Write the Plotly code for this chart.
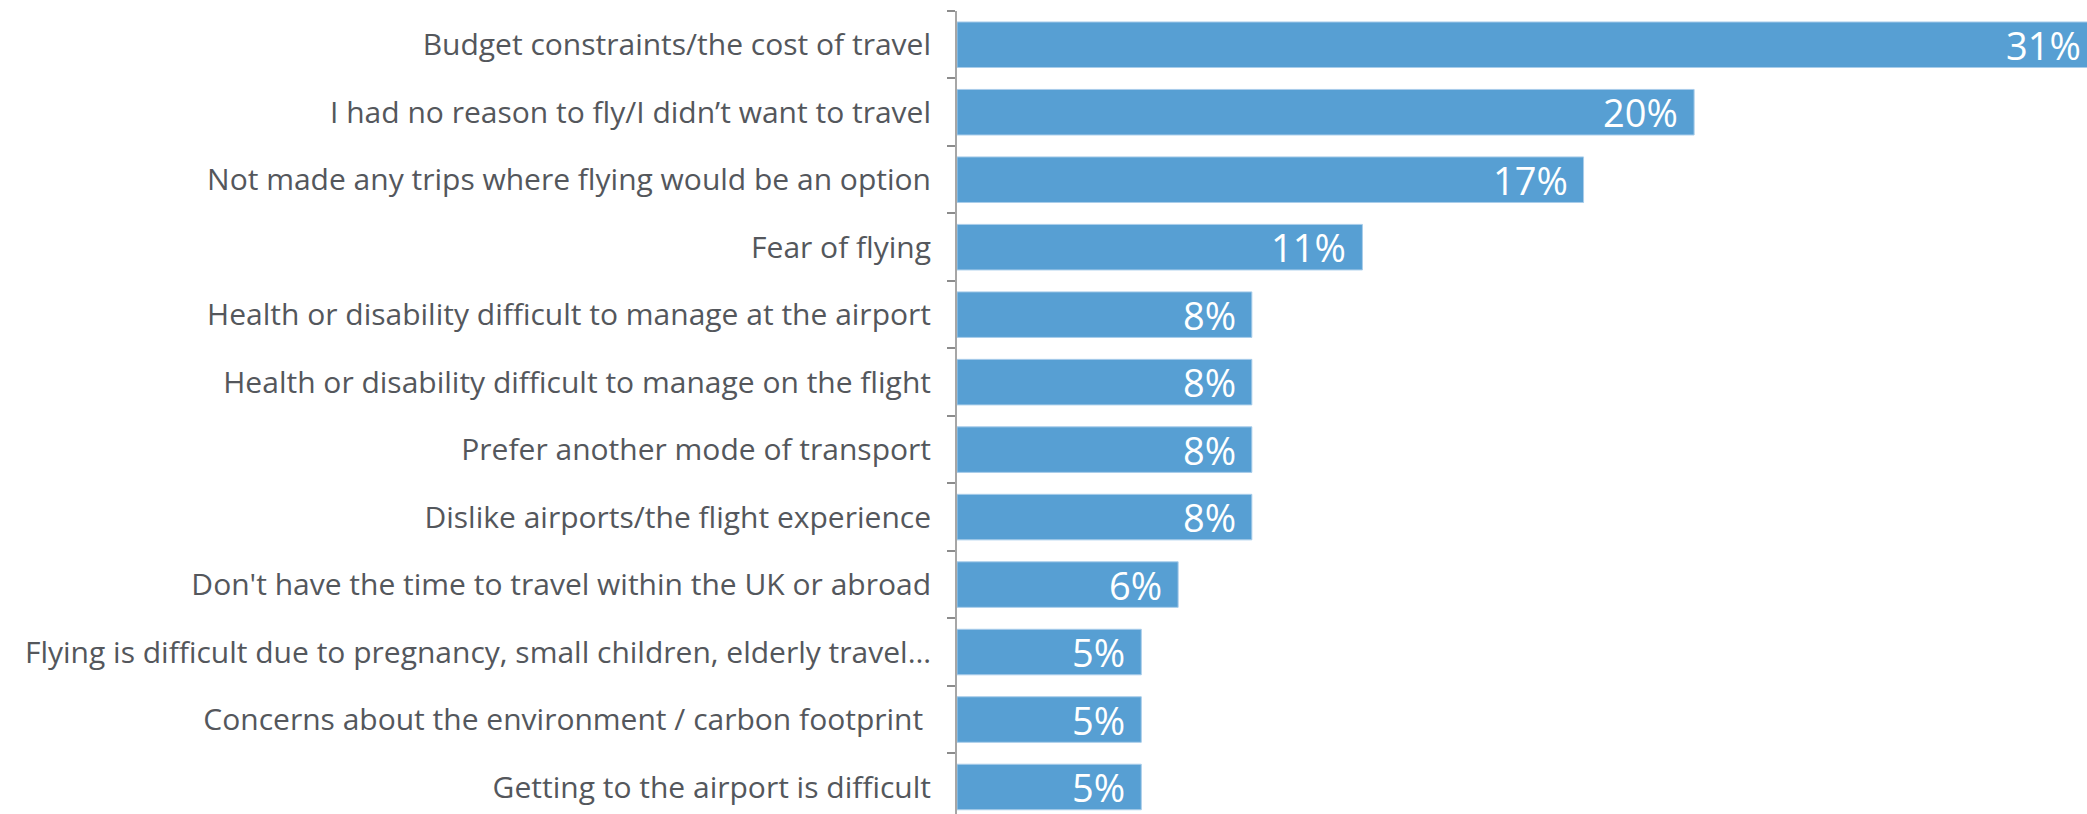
import plotly.graph_objects as go

categories = [
    "Budget constraints/the cost of travel",
    "I had no reason to fly/I didn\u2019t want to travel",
    "Not made any trips where flying would be an option",
    "Fear of flying",
    "Health or disability difficult to manage at the airport",
    "Health or disability difficult to manage on the flight",
    "Prefer another mode of transport",
    "Dislike airports/the flight experience",
    "Don't have the time to travel within the UK or abroad",
    "Flying is difficult due to pregnancy, small children, elderly travel\u2026",
    "Concerns about the environment / carbon footprint ",
    "Getting to the airport is difficult",
]
values = [31, 20, 17, 11, 8, 8, 8, 8, 6, 5, 5, 5]
value_labels = ["31%", "20%", "17%", "11%", "8%", "8%", "8%", "8%", "6%", "5%", "5%", "5%"]

BAR_COLOR = "#579fd3"
FONT = "Open Sans"
X_MAX = 30.66  # the longest bar runs off the right edge in the original

fig = go.Figure()
fig.add_trace(
    go.Bar(
        x=values,
        y=categories,
        orientation="h",
        width=0.675,
        marker={"color": BAR_COLOR, "line": {"color": "#a9cdea", "width": 1}},
        hoverinfo="skip",
    )
)

# value labels sit inside the bar end, with some padding
for cat, val, lab in zip(categories, values, value_labels):
    fig.add_annotation(
        x=min(val, X_MAX), y=cat, xref="x", yref="y",
        text=lab, showarrow=False,
        xanchor="right", yanchor="middle",
        xshift=-14 if val <= X_MAX else -4,
        font={"family": FONT, "size": 38, "color": "white"},
    )

fig.update_layout(
    width=2087,
    height=814,
    margin={"l": 957, "r": 0, "t": 11, "b": 0, "autoexpand": False},
    paper_bgcolor="white",
    plot_bgcolor="white",
    showlegend=False,
    xaxis={
        "range": [0, X_MAX],
        "showticklabels": False,
        "showgrid": False,
        "zeroline": False,
        "showline": False,
        "ticks": "",
    },
    yaxis={
        "type": "category",
        "categoryorder": "array",
        "categoryarray": categories,
        "range": [11.4, -0.5],
        "showgrid": False,
        "zeroline": False,
        "showline": True,
        "linecolor": "#a6a6a6",
        "linewidth": 2,
        "ticks": "outside",
        "tickson": "boundaries",
        "ticklen": 8,
        "tickcolor": "#8c8c8c",
        "tickwidth": 2,
        "ticklabelstandoff": 18,
        "tickfont": {"family": FONT, "size": 30, "color": "#54575c"},
    },
)

# drop the browser's default body margin so the chart fills the window
fig.write_html(
    "out.html",
    config={"displayModeBar": False},
    post_script="document.body.style.margin='0';",
)
